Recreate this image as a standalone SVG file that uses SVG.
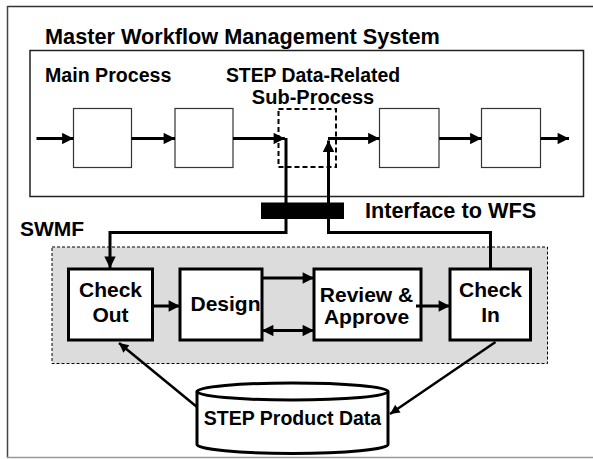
<svg xmlns="http://www.w3.org/2000/svg" width="593" height="459" viewBox="0 0 593 459">
  <defs>
    <marker id="arrow" viewBox="0 0 10 10" refX="10" refY="5" markerWidth="4.2" markerHeight="3.8" markerUnits="strokeWidth" orient="auto">
      <path d="M0,0 L10,5 L0,10 Z" fill="#000"/>
    </marker>
    <marker id="arrow-start" viewBox="0 0 10 10" refX="0" refY="5" markerWidth="4.2" markerHeight="3.8" markerUnits="strokeWidth" orient="auto">
      <path d="M10,0 L0,5 L10,10 Z" fill="#000"/>
    </marker>
  </defs>
  <style>
    text { font-family: "Liberation Sans", Arial, sans-serif; font-weight: bold; fill: #000; }
    .label { font-size: 20px; }
    .heading { font-size: 21.7px; }
    .node-text { font-size: 21px; text-anchor: middle; }
    .step { fill: #fff; stroke: #333; stroke-width: 1.2; }
    .task { fill: #fff; stroke: #000; stroke-width: 3; }
    .flow { fill: none; stroke: #000; stroke-width: 3; marker-end: url(#arrow); }
  </style>

  <rect width="593" height="459" fill="#fff"/>

  <!-- page frame -->
  <g id="frame">
    <line x1="7" y1="6.5" x2="593" y2="6.5" stroke="#333" stroke-width="1.5"/>
    <line x1="7.5" y1="6" x2="7.5" y2="458" stroke="#444" stroke-width="1.5"/>
    <line x1="7" y1="457.5" x2="593" y2="457.5" stroke="#999" stroke-width="1.5"/>
  </g>

  <!-- master workflow management system -->
  <g id="master">
    <text class="heading" x="45" y="43.5">Master Workflow Management System</text>
    <rect x="30" y="50.5" width="553.5" height="146" fill="#fff" stroke="#222" stroke-width="1.5"/>
    <text class="label" x="45" y="81.5" style="font-size:19.6px">Main Process</text>
    <text class="label" x="313" y="81.5" text-anchor="middle" style="font-size:19.4px">STEP Data-Related</text>
    <text class="label" x="313" y="104" text-anchor="middle">Sub-Process</text>
  </g>

  <g id="step1"><rect class="step" x="73.5" y="108.5" width="58" height="59"/></g>
  <g id="step2"><rect class="step" x="175" y="108.5" width="58" height="59"/></g>
  <g id="step-sub"><rect x="278.5" y="109" width="57.5" height="58" fill="none" stroke="#000" stroke-width="2" stroke-dasharray="5,3"/></g>
  <g id="step4"><rect class="step" x="379.5" y="108.5" width="59.5" height="59"/></g>
  <g id="step5"><rect class="step" x="481.5" y="108.5" width="59" height="59"/></g>

  <!-- software workflow (SWMF) -->
  <g id="swmf">
    <text class="label" x="20" y="236" style="font-size:21px">SWMF</text>
    <rect x="52" y="247" width="495.5" height="116.5" fill="#dcdcdc" stroke="#000" stroke-width="1" stroke-dasharray="3,2"/>
  </g>

  <g id="check-out">
    <rect class="task" x="68.5" y="269" width="84" height="71"/>
    <text class="node-text" x="110.5" y="296.5">Check</text>
    <text class="node-text" x="110.5" y="321.5">Out</text>
  </g>
  <g id="design">
    <rect class="task" x="180" y="269" width="82" height="71"/>
    <text class="node-text" x="225.5" y="310.5">Design</text>
  </g>
  <g id="review">
    <rect class="task" x="314" y="269" width="107" height="71"/>
    <text class="node-text" x="366.5" y="301.5">Review &amp;</text>
    <text class="node-text" x="366.5" y="324">Approve</text>
  </g>
  <g id="check-in">
    <rect class="task" x="450" y="269" width="80.5" height="71"/>
    <text class="node-text" x="490.5" y="296.5">Check</text>
    <text class="node-text" x="490.5" y="321.5">In</text>
  </g>

  <g id="product-data">
    <path d="M197,391.5 L197,444.5 A95.5,9 0 0 0 388,444.5 L388,391.5" fill="#fff" stroke="#000" stroke-width="3"/>
    <ellipse cx="292.5" cy="391.5" rx="95.5" ry="8.5" fill="#fff" stroke="#000" stroke-width="3"/>
    <text class="node-text" x="292.5" y="425" style="font-size:19.5px">STEP Product Data</text>
  </g>

  <g id="interface">
    <rect x="261" y="202.5" width="83" height="16.5" fill="#000"/>
    <text class="heading" x="365" y="218">Interface to WFS</text>
  </g>

  <!-- connectors -->
  <g id="connectors">
    <line class="flow" x1="36.5" y1="138.5" x2="73.5" y2="138.5"/>
    <line class="flow" x1="131.5" y1="138.5" x2="175" y2="138.5"/>
    <line class="flow" x1="233" y1="138.5" x2="285" y2="138.5"/>
    <line class="flow" x1="328" y1="138.5" x2="379.5" y2="138.5"/>
    <line class="flow" x1="439" y1="138.5" x2="481.5" y2="138.5"/>
    <line class="flow" x1="540.5" y1="138.5" x2="569" y2="138.5"/>

    <polyline class="flow" points="286,138 286,232.5 110,232.5 110,268"/>
    <polyline class="flow" points="490.5,269 490.5,232.5 328.5,232.5 328.5,140.5"/>

    <line class="flow" x1="152.5" y1="306" x2="180" y2="306"/>
    <line class="flow" x1="262" y1="278" x2="314" y2="278"/>
    <line class="flow" x1="262" y1="330.5" x2="314" y2="330.5" style="marker-start:url(#arrow-start)"/>
    <line class="flow" x1="416" y1="306" x2="450" y2="306"/>

    <line class="flow" x1="197" y1="407" x2="119" y2="343" style="stroke-width:2.5"/>
    <line class="flow" x1="495.5" y1="342" x2="390" y2="414" style="stroke-width:2.5"/>
  </g>
</svg>
